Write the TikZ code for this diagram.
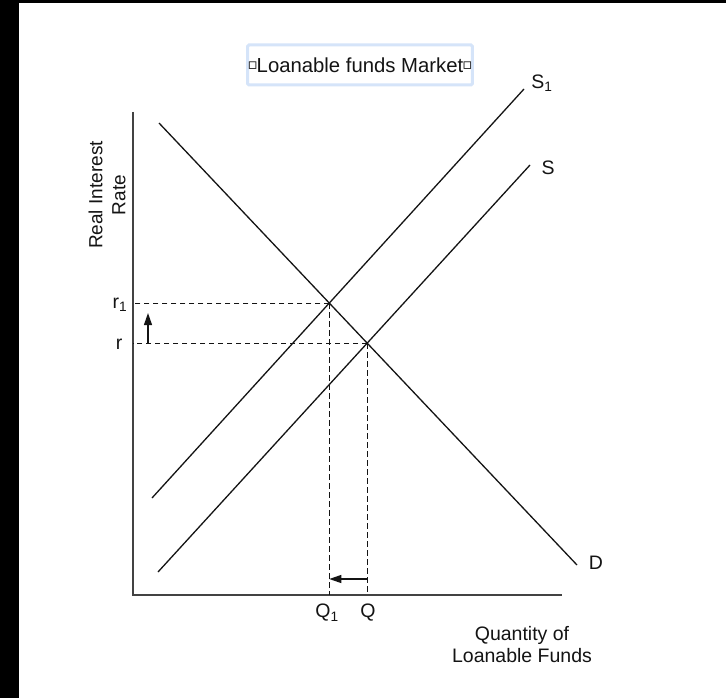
\documentclass[tikz,border=0pt]{standalone}
\usepackage{fontspec}
\setmainfont{Liberation Sans}
\newfontfamily\symfont{DejaVu Sans}
\usetikzlibrary{arrows.meta,calc}
\definecolor{boxblue}{RGB}{213,228,249}
\definecolor{ink}{RGB}{20,20,20}
\newcommand{\tinysq}{\raisebox{2.5pt}{\symfont\fontsize{15}{15}\selectfont ▫}}
\tikzset{
  curve/.style={draw=ink,line width=1.3pt},
  axisline/.style={draw=ink!80,line width=1.6pt},
  guide/.style={draw=ink,line width=1pt,dash pattern=on 5.5pt off 3.5pt},
  shiftarrow/.style={draw=ink,line width=1.2pt,-{Triangle[length=12pt,width=8pt]}},
  lbl/.style={font=\fontsize{19.5}{22}\selectfont,text=ink,inner sep=0pt},
}
\begin{document}
\begin{tikzpicture}[x=1pt,y=-1pt]
\useasboundingbox (0,0) rectangle (726,698);
\fill[white] (0,0) rectangle (726,698);
\fill[black] (0,0) rectangle (19,698);
\fill[black] (0,0) rectangle (726,3);
% title
\node[draw=boxblue,line width=3pt,rounded corners=1.5pt,minimum width=216pt,minimum height=40pt,inner sep=0pt,font=\fontsize{20.3}{22}\selectfont,text=ink] (title) at (360,65)
  {\tinysq\kern-1pt Loanable funds Market\kern-1pt\tinysq};
% axes
\coordinate (O) at (133,595);
\coordinate (Ytop) at (133,112);
\coordinate (Xend) at (562,595);
\draw[axisline] (Ytop) -- (O) -- (Xend);
% curves
\coordinate (Dtop) at (159,123);
\coordinate (Dbot) at (577,565);
\coordinate (S1lo) at (152,498);
\coordinate (S1hi) at (524,89);
\coordinate (Slo) at (158,572);
\coordinate (Shi) at (530,165);
\draw[curve] (Dtop) -- (Dbot);
\draw[curve] (S1lo) -- (S1hi);
\draw[curve] (Slo) -- (Shi);
\coordinate (E1) at (intersection of Dtop--Dbot and S1lo--S1hi);
\coordinate (E0) at (intersection of Dtop--Dbot and Slo--Shi);
% guides
\draw[guide] (E1) -- (E1 -| O);
\draw[guide] (E1) -- (E1 |- O);
\draw[guide] (E0) -- (E0 -| O);
\draw[guide] (E0) -- (E0 |- O);
% shift arrows
\coordinate (upTail) at ($(E0 -| O)+(15,0)$);
\coordinate (upTip) at ($(E1 -| O)+(15,10)$);
\draw[shiftarrow] (upTail) -- (upTip);
\coordinate (lfTail) at ($(E0 |- O)+(0,-16)$);
\coordinate (lfTip) at ($(E1 |- O)+(0,-16)$);
\draw[shiftarrow] (lfTail) -- (lfTip);
% labels
\node[lbl] (r1) at (120,305) {r\textsubscript{1}};
\node[lbl] (r0) at (119,344) {r};
\node[lbl] (q1) at (327,613) {Q\textsubscript{1}};
\node[lbl] (q0) at (368,613) {Q};
\node[lbl] (s1) at (542,83) {S\textsubscript{1}};
\node[lbl] (s0) at (548,168) {S};
\node[lbl] (d) at (596,563) {D};
\node[lbl,font=\fontsize{19.5}{22}\selectfont,align=center] (xl) at (522,645) {Quantity of\\Loanable Funds};
\node[lbl,font=\fontsize{19}{23}\selectfont,align=center,rotate=90] (yl) at (107,195) {Real Interest\\Rate};
\end{tikzpicture}
\end{document}
